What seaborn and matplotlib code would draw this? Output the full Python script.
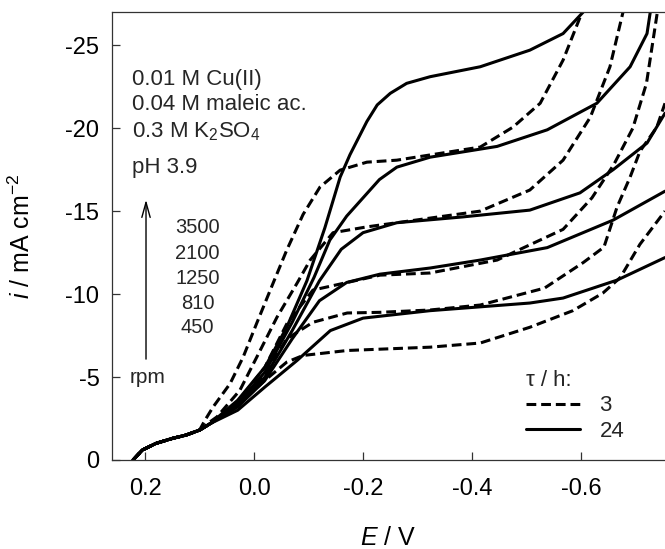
import numpy as np
import pandas as pd
import matplotlib
matplotlib.use("Agg")
import matplotlib.pyplot as plt
from matplotlib.lines import Line2D
import seaborn as sns

# ---------------- data ----------------
RPM = ["3500", "2100", "1250", "810", "450"]
TAU = ["3", "24"]

# shared foot of all curves
FOOT_E = [0.222, 0.205, 0.180, 0.150, 0.125, 0.100]
FOOT_I = [0.0, -0.6, -1.0, -1.3, -1.5, -1.8]

# tau = 24 h (solid)
S3500_E = [0.08, 0.03, -0.02, -0.06, -0.097, -0.13, -0.158, -0.176, -0.207, -0.226, -0.25, -0.28, -0.323, -0.415, -0.506, -0.567, -0.604]
S3500_I = [-2.2, -3.6, -5.6, -8.0, -10.8, -14.0, -17.05, -18.4, -20.4, -21.4, -22.1, -22.7, -23.1, -23.7, -24.7, -25.7, -27.0]
S2100_E = [0.08, 0.03, -0.02, -0.07, -0.11, -0.139, -0.17, -0.20, -0.23, -0.262, -0.323, -0.446, -0.538, -0.629, -0.69, -0.721, -0.727]
S2100_I = [-2.2, -3.4, -5.3, -8.3, -11.0, -13.25, -14.7, -15.8, -16.9, -17.65, -18.25, -18.9, -19.9, -21.5, -23.7, -25.7, -27.0]
S1250_E = [0.08, 0.03, -0.02, -0.07, -0.12, -0.16, -0.20, -0.262, -0.383, -0.506, -0.598, -0.659, -0.721, -0.754]
S1250_I = [-2.2, -3.3, -5.0, -7.8, -10.8, -12.7, -13.7, -14.3, -14.65, -15.06, -16.1, -17.5, -19.1, -20.9]
S810_E = [0.08, 0.03, -0.02, -0.07, -0.12, -0.17, -0.231, -0.323, -0.415, -0.538, -0.659, -0.754]
S810_I = [-2.2, -3.2, -4.8, -7.3, -9.6, -10.7, -11.2, -11.57, -12.05, -12.8, -14.46, -16.2]
S450_E = [0.08, 0.03, -0.02, -0.079, -0.14, -0.20, -0.323, -0.506, -0.567, -0.666, -0.754]
S450_I = [-2.2, -3.0, -4.4, -6.0, -7.8, -8.55, -9.0, -9.46, -9.76, -10.84, -12.2]

# tau = 3 h (dashed)
D3500_E = [0.09, 0.075, 0.044, 0.02, -0.005, -0.035, -0.06, -0.09, -0.121, -0.158, -0.207, -0.262, -0.415, -0.475, -0.525, -0.567, -0.602]
D3500_I = [-2.4, -3.2, -4.6, -6.2, -8.25, -10.66, -12.65, -14.8, -16.45, -17.47, -17.95, -18.07, -18.86, -20.06, -21.5, -24.1, -27.0]
D2100_E = [0.085, 0.068, 0.026, -0.005, -0.042, -0.079, -0.103, -0.145, -0.207, -0.262, -0.415, -0.506, -0.567, -0.617, -0.653, -0.677]
D2100_I = [-2.2, -2.6, -4.2, -6.2, -8.6, -10.66, -12.05, -13.7, -14.05, -14.3, -15.0, -16.27, -18.07, -20.66, -23.7, -27.0]
D1250_E = [0.08, 0.03, -0.02, -0.06, -0.108, -0.171, -0.231, -0.323, -0.446, -0.567, -0.62, -0.66, -0.695, -0.72, -0.74]
D1250_I = [-2.2, -3.5, -5.6, -8.2, -10.24, -10.7, -11.14, -11.27, -12.05, -13.9, -15.8, -17.8, -20.0, -22.7, -27.0]
D810_E = [0.08, 0.03, -0.02, -0.06, -0.108, -0.171, -0.231, -0.323, -0.415, -0.533, -0.604, -0.642, -0.666, -0.69, -0.708, -0.739, -0.754]
D810_I = [-2.2, -3.4, -5.2, -7.3, -8.3, -8.86, -8.9, -9.04, -9.34, -10.36, -11.9, -12.83, -15.24, -17.05, -18.6, -20.06, -21.5]
D450_E = [0.08, 0.03, -0.02, -0.06, -0.09, -0.171, -0.323, -0.415, -0.506, -0.585, -0.64, -0.672, -0.708, -0.754]
D450_I = [-2.2, -3.3, -4.8, -5.9, -6.3, -6.6, -6.8, -7.05, -8.0, -9.0, -10.06, -11.0, -13.0, -15.0]

X_TICKS = [0.2, 0.0, -0.2, -0.4, -0.6]
X_LABELS = ["0.2", "0.0", "-0.2", "-0.4", "-0.6"]
Y_TICKS = [0, -5, -10, -15, -20, -25]
Y_LABELS = ["0", "-5", "-10", "-15", "-20", "-25"]

curves = {
    ("3", "3500"): (D3500_E, D3500_I), ("3", "2100"): (D2100_E, D2100_I),
    ("3", "1250"): (D1250_E, D1250_I), ("3", "810"): (D810_E, D810_I),
    ("3", "450"): (D450_E, D450_I),
    ("24", "3500"): (S3500_E, S3500_I), ("24", "2100"): (S2100_E, S2100_I),
    ("24", "1250"): (S1250_E, S1250_I), ("24", "810"): (S810_E, S810_I),
    ("24", "450"): (S450_E, S450_I),
}

rows = []
for (tau, rpm), (es, is_) in curves.items():
    for k, (e, i) in enumerate(zip(FOOT_E + es, FOOT_I + is_)):
        rows.append({"E": e, "i": i, "tau": tau, "rpm": rpm, "unit": tau + "_" + rpm, "order": k})
df = pd.DataFrame(rows)

# ---------------- style ----------------
sns.set_theme(style="white")
plt.rcParams["font.family"] = ["Liberation Sans", "DejaVu Sans"]
plt.rcParams["axes.unicode_minus"] = False
plt.rcParams["mathtext.fontset"] = "custom"
plt.rcParams["mathtext.rm"] = "Liberation Sans"
plt.rcParams["mathtext.it"] = "Liberation Sans:italic"

fig = plt.figure(figsize=(6.65, 5.49), dpi=100)
ax = fig.add_axes([112 / 665, 1 - 460 / 549, 553 / 665, 448 / 549])

LW = 2.2
sns.lineplot(data=df, x="E", y="i", units="unit", style="tau", estimator=None,
             sort=False, color="black", linewidth=LW,
             dashes={"3": (3.2, 1.6), "24": ""}, style_order=TAU,
             legend=False, ax=ax)

ax.set_xlim(0.2606, -0.754)
ax.set_ylim(0, -27)
ax.set_xticks(X_TICKS)
ax.set_xticklabels(X_LABELS)
ax.set_yticks(Y_TICKS)
ax.set_yticklabels(Y_LABELS)
ax.tick_params(axis="both", which="major", bottom=True, left=True, top=False, right=False,
               direction="in", length=6, width=0.9, color="#333333",
               labelsize=17, labelcolor="black")
ax.tick_params(axis="x", pad=13)
ax.tick_params(axis="y", pad=9)
for s in ["left", "bottom", "top"]:
    ax.spines[s].set_color("#333333")
    ax.spines[s].set_linewidth(0.9)
ax.spines["right"].set_visible(False)

ax.set_xlabel(r"$\mathit{E}$ / V", fontsize=18, color="black")
ax.set_ylabel(r"$\mathit{i}$ / mA cm$^{-2}$", fontsize=18, color="black")
ax.xaxis.set_label_coords(0.5, -0.148)
ax.yaxis.set_label_coords(-0.14, 0.5)

# composition text
tfs = 16
ax.text(0.036, 0.837, "0.01 M Cu(II)", transform=ax.transAxes, fontsize=tfs, va="baseline")
ax.text(0.036, 0.781, "0.04 M maleic ac.", transform=ax.transAxes, fontsize=tfs, va="baseline")
ax.text(0.036, 0.721, r"0.3 M K$_2$SO$_4$", transform=ax.transAxes, fontsize=tfs, va="baseline")
ax.text(0.036, 0.641, "pH 3.9", transform=ax.transAxes, fontsize=tfs, va="baseline")

# rpm arrow and labels
ax.annotate("", xy=(0.0615, 0.587), xytext=(0.0615, 0.219), xycoords="axes fraction",
            arrowprops=dict(arrowstyle="->,head_length=0.9,head_width=0.25", lw=1.0, color="black"))
ax.text(0.065, 0.172, "rpm", transform=ax.transAxes, fontsize=15, ha="center", va="baseline")
rpm_y = [0.507, 0.449, 0.393, 0.338, 0.284]
for lab, yy in zip(RPM, rpm_y):
    ax.text(0.155, yy, lab, transform=ax.transAxes, fontsize=14.5, ha="center", va="baseline")

# legend
handles = [Line2D([], [], color="black", lw=LW, dashes=(3.2, 1.6)),
           Line2D([], [], color="black", lw=LW)]
leg = ax.legend(handles, TAU, title="τ / h:", loc="upper left",
                bbox_to_anchor=(0.749, 0.201), frameon=False, fontsize=16,
                title_fontsize=16, handlelength=2.4, handletextpad=0.9,
                labelspacing=0.2, borderaxespad=0.0, borderpad=0.0)
leg._legend_box.align = "left"

fig.savefig("out.png", dpi=100)
